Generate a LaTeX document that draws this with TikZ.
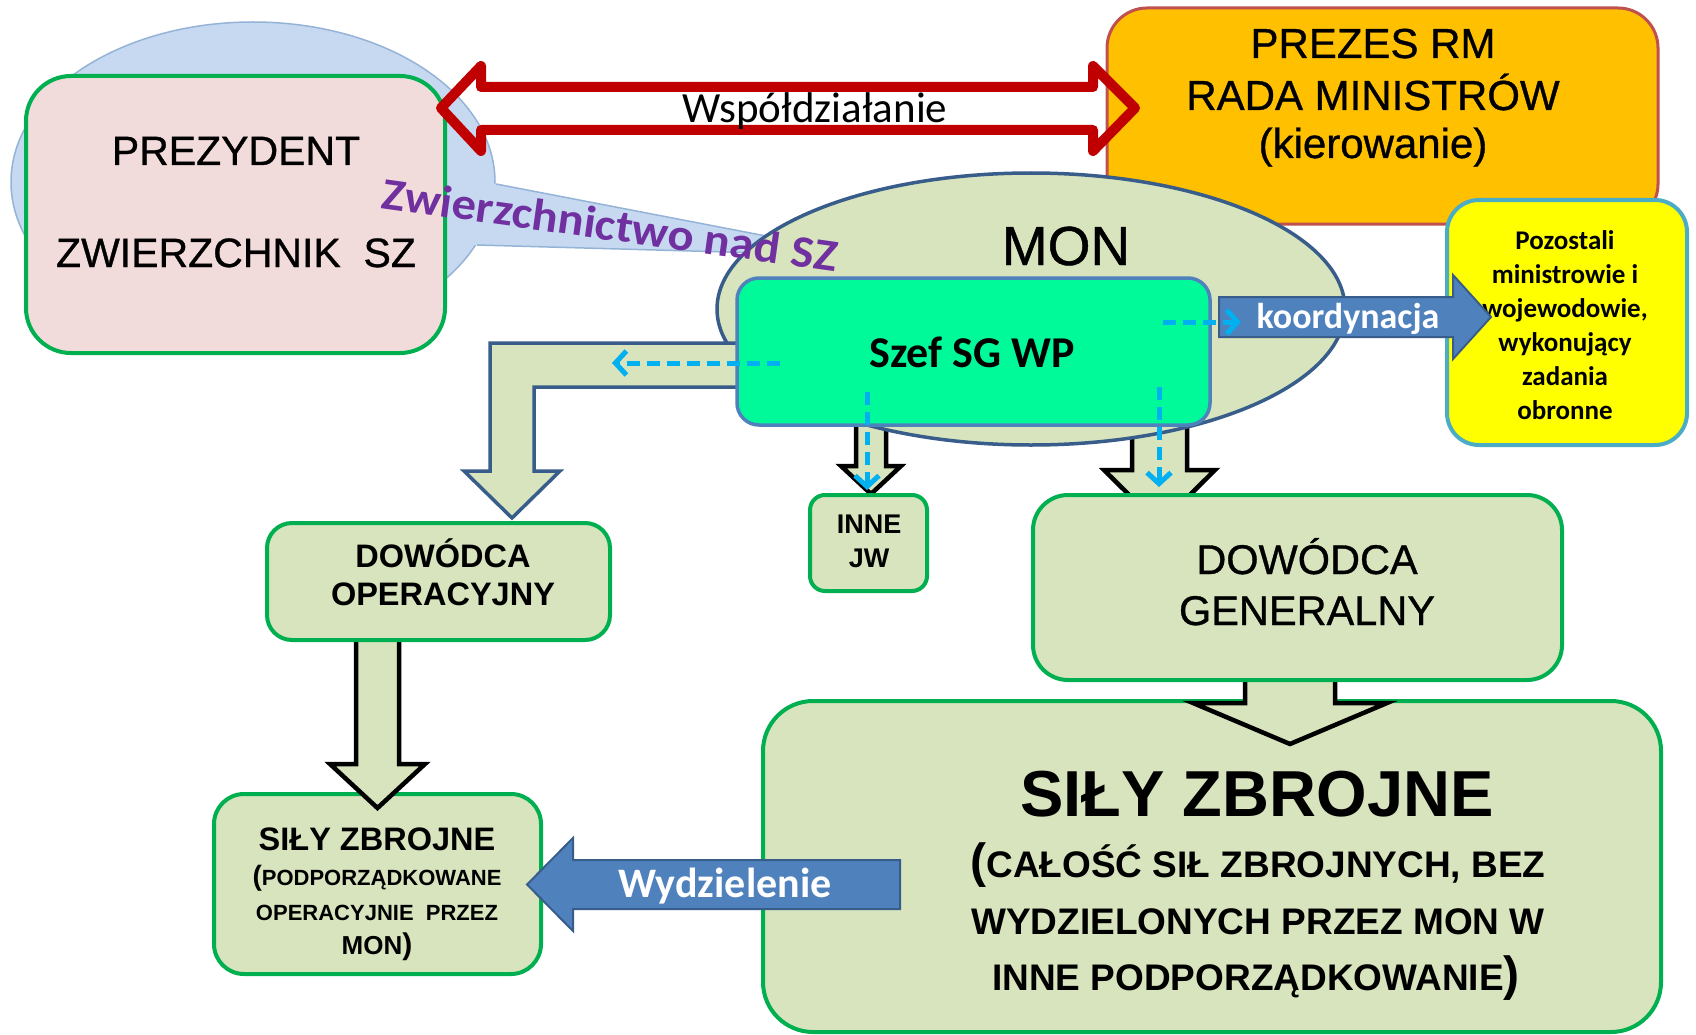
\documentclass[tikz,border=0pt]{standalone}
\usepackage{fontspec}
\setmainfont{Liberation Sans}
\newfontfamily\calfont{Carlito}
\newfontfamily\medfont[FakeBold=0.8]{Liberation Sans}
\usetikzlibrary{shapes.geometric,arrows.meta}
\newcommand\fsz[1]{\fontsize{#1pt}{#1pt}\selectfont}
\definecolor{bubfill}{HTML}{C6D9F1}
\definecolor{bubdraw}{HTML}{95B3D7}
\definecolor{pinkF}{HTML}{F2DCDB}
\definecolor{grn}{HTML}{00B050}
\definecolor{orng}{HTML}{FFC000}
\definecolor{orngdraw}{HTML}{C0504D}
\definecolor{olive}{HTML}{D7E4BD}
\definecolor{navy}{HTML}{385D8A}
\definecolor{mint}{HTML}{00FA9A}
\definecolor{szefdraw}{HTML}{4F81BD}
\definecolor{cyanA}{HTML}{00B0F0}
\definecolor{yel}{HTML}{FFFF00}
\definecolor{yeldraw}{HTML}{4BACC6}
\definecolor{blueA}{HTML}{4F81BD}
\definecolor{purp}{HTML}{7030A0}
\definecolor{redA}{HTML}{C00000}
\begin{document}
\begin{tikzpicture}[x=1pt,y=-1pt,
  box/.style={rectangle, inner sep=0pt, line width=4pt},
  gbox/.style={box, fill=olive, draw=grn},
  t/.style={inner sep=0pt, anchor=base},
  blk/.style={fill=olive, draw=black, line width=4.5pt, line join=miter},
  bluearr/.style={fill=blueA, draw=navy, line width=2pt, line join=miter},
  dsh/.style={draw=cyanA, line width=5pt, dash pattern=on 13pt off 7pt, -{Straight Barb[length=11pt,width=24pt]}}
]
\useasboundingbox (0,0) rectangle (1696,1035);
\fill[white] (0,0) rectangle (1696,1035);

% callout bubble
\node[ellipse, inner sep=0pt, minimum width=484pt, minimum height=320pt, fill=bubfill, draw=bubdraw, line width=1.5pt] (bub) at (253,182) {};
\fill[bubfill] (470,184) -- (496,184) -- (870,256) -- (477,245) -- (455,245) -- cycle;
\draw[bubdraw, line width=1.5pt] (496,184) -- (870,256) -- (477,245);

% PREZYDENT
\node[box, fill=pinkF, draw=grn, minimum width=419pt, minimum height=277pt, rounded corners=45pt] (prez) at (235.5,214.5) {};
\node[t, font=\medfont\fsz{41}] (prezA) at (236,165) {PREZYDENT};
\node[t, font=\medfont\fsz{41}] (prezB) at (236,267) {ZWIERZCHNIK\ \ SZ};

% PREZES RM
\node[box, fill=orng, draw=orngdraw, line width=3pt, minimum width=551pt, minimum height=216pt, rounded corners=40pt] (rm) at (1382.5,116) {};
\node[t, font=\medfont\fsz{42}] (rmA) at (1373,58) {PREZES RM};
\node[t, font=\medfont\fsz{42}] (rmB) at (1373,110) {RADA MINISTRÓW};
\node[t, font=\medfont\fsz{42}] (rmC) at (1373,158) {(kierowanie)};

% double arrow
\draw[redA, line width=10pt, line join=round] (441,108) -- (481,66) -- (481,87) -- (1093,87) -- (1093,66) -- (1135,108) -- (1093,151) -- (1093,130) -- (481,130) -- (481,151) -- cycle;
\node[t, font=\calfont\fsz{43}] (wsp) at (815,123) {Współdziałanie};

% arrows under MON
\draw[blk] (856,410) -- (856,466) -- (841,466) -- (871,494) -- (901,466) -- (886,466) -- (886,410) -- cycle;
\draw[blk] (1132,410) -- (1132,470) -- (1104,470) -- (1159.5,525) -- (1215,470) -- (1187,470) -- (1187,410) -- cycle;

% MON
\node[ellipse, inner sep=0pt, minimum width=628pt, minimum height=272pt, fill=olive, draw=navy, line width=3.5pt] (mon) at (1031,309) {};
\node[t, font=\medfont\fsz{55}] (monT) at (1066,265) {MON};

% callout text
\node[t, rotate=-8, text=purp, font=\calfont\bfseries\fsz{45}] (zw) at (608,240) {\scalebox{1.08}[1]{Zwierzchnictwo nad SZ}};

% L arrow
\draw[fill=olive, draw=navy, line width=3.5pt, line join=miter] (760,343) -- (490,343) -- (490,471) -- (464,471) -- (512,518) -- (560,471) -- (534,471) -- (534,387) -- (760,387) -- cycle;

% Szef
\node[box, fill=mint, draw=szefdraw, line width=3.5pt, minimum width=473pt, minimum height=147pt, rounded corners=22pt] (szef) at (973.5,351.5) {};
\node[t, font=\calfont\bfseries\fsz{44}] (szefT) at (972,367) {Szef SG WP};

% yellow box
\node[box, fill=yel, draw=yeldraw, minimum width=240pt, minimum height=245pt, rounded corners=32pt] (poz) at (1567,322.5) {};
\begin{scope}[every node/.style={t, font=\calfont\bfseries\fsz{27}}]
\node (pozA) at (1565,249) {Pozostali};
\node (pozB) at (1565,283) {ministrowie i};
\node (pozC) at (1565,317) {wojewodowie,};
\node (pozD) at (1565,351) {wykonujący};
\node (pozE) at (1565,385) {zadania};
\node (pozF) at (1565,419) {obronne};
\end{scope}

% koordynacja
\draw[bluearr] (1219,297) -- (1453,297) -- (1453,275) -- (1491,317) -- (1453,359) -- (1453,337) -- (1219,337) -- cycle;
\node[t, text=white, font=\calfont\bfseries\fsz{36}] (koord) at (1348,328) {koordynacja};

% dashed arrows
\coordinate (d1s) at (780,363); \coordinate (d1e) at (612,363);
\coordinate (d2s) at (1163,322); \coordinate (d2e) at (1241,322);
\coordinate (d3s) at (867,392); \coordinate (d3e) at (867,490);
\coordinate (d4s) at (1159,387); \coordinate (d4e) at (1159,487);
\draw[dsh] (d1s) -- (d1e);
\draw[dsh] (d2s) -- (d2e);
\draw[dsh] (d3s) -- (d3e);
\draw[dsh] (d4s) -- (d4e);

% INNE JW
\node[gbox, minimum width=117pt, minimum height=96pt, rounded corners=15pt] (inne) at (868.5,543) {};
\node[t, font=\bfseries\fsz{27}] (inneA) at (869,533) {INNE};
\node[t, font=\bfseries\fsz{27}] (inneB) at (869,567) {JW};

% big SZ
\node[gbox, minimum width=898pt, minimum height=331pt, rounded corners=50pt] (szb) at (1212,866.5) {};
\draw[blk] (1245,670) -- (1245,703) -- (1193,703) -- (1290,744) -- (1387,703) -- (1335,703) -- (1335,670) -- cycle;

% DG
\node[gbox, minimum width=529pt, minimum height=185pt, rounded corners=35pt] (dg) at (1297.5,587.5) {};
\node[t, font=\medfont\fsz{41.5}] (dgA) at (1307,574) {DOWÓDCA};
\node[t, font=\medfont\fsz{41.5}] (dgB) at (1307,625) {GENERALNY};

% big SZ text
\node[t, font=\bfseries\fsz{65}] (szbA) at (1257,816) {SIŁY ZBROJNE};
\node[t, font=\bfseries\fsz{37}] (szbB) at (1258,877) {{\fsz{48}(}CAŁOŚĆ SIŁ ZBROJNYCH, BEZ};
\node[t, font=\bfseries\fsz{37}] (szbC) at (1258,934) {WYDZIELONYCH PRZEZ MON W};
\node[t, font=\bfseries\fsz{37}] (szbD) at (1256,990) {INNE PODPORZĄDKOWANIE{\fsz{48})}};

% small SZ
\node[gbox, minimum width=327pt, minimum height=180pt, rounded corners=30pt] (szs) at (377.5,884) {};
\draw[blk] (356,635) -- (356,764) -- (330,764) -- (377.5,808) -- (425,764) -- (399,764) -- (399,635) -- cycle;

% DOP
\node[gbox, minimum width=343pt, minimum height=117pt, rounded corners=25pt] (dop) at (438.5,581.5) {};
\node[t, font=\bfseries\fsz{32.5}] (dopA) at (443,567) {DOWÓDCA};
\node[t, font=\bfseries\fsz{32.5}] (dopB) at (443,605) {OPERACYJNY};

% small SZ text
\node[t, font=\bfseries\fsz{32.5}] (szsA) at (377,850) {SIŁY ZBROJNE};
\node[t, font=\bfseries\fsz{22}] (szsB) at (377,885) {{\fsz{28}(}PODPORZĄDKOWANE};
\node[t, font=\bfseries\fsz{22}] (szsC) at (377,920) {OPERACYJNIE\ \ PRZEZ};
\node[t, font=\bfseries\fsz{26}] (szsD) at (377,954) {MON{\fsz{30})}};

% Wydzielenie
\draw[bluearr] (900,860) -- (573,860) -- (573,838) -- (527,884.5) -- (573,931) -- (573,909) -- (900,909) -- cycle;
\node[t, text=white, font=\calfont\bfseries\fsz{42}] (wydz) at (725,897) {Wydzielenie};

\end{tikzpicture}
\end{document}
